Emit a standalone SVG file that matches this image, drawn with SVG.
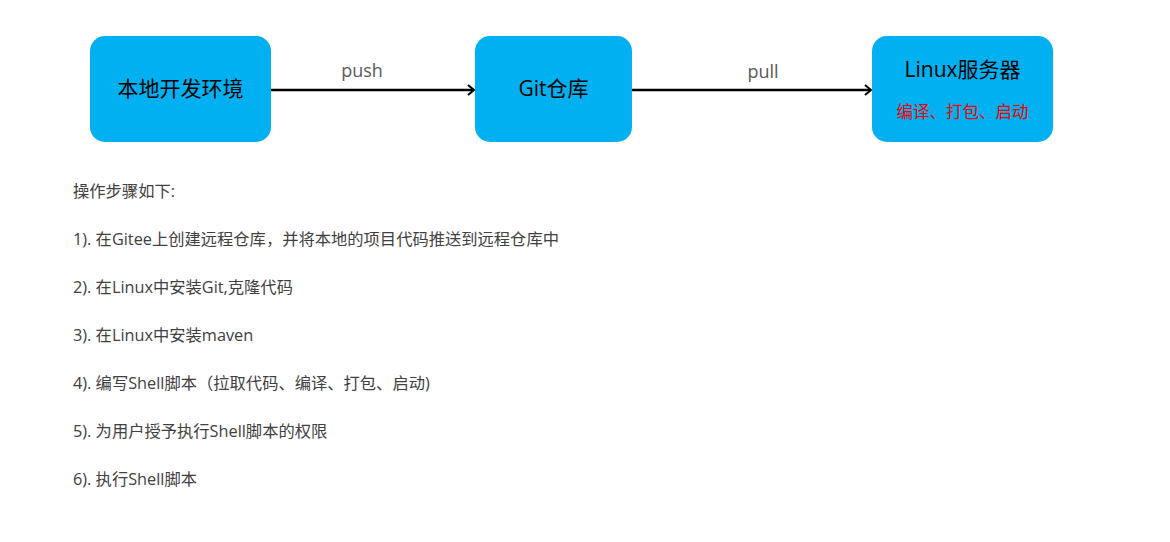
<svg xmlns="http://www.w3.org/2000/svg" width="1170" height="542" viewBox="0 0 1170 542">
<style>
.box{fill:#00B0F0;}
.nt{font-family:"Open Sans","Noto Sans CJK SC",sans-serif;font-size:21px;fill:#000;text-anchor:middle;}
.red{font-family:"Open Sans","Noto Sans CJK SC",sans-serif;font-size:16.5px;fill:#F00000;text-anchor:middle;}
.lbl{font-family:"Open Sans","Noto Sans CJK SC",sans-serif;font-size:18px;fill:#595959;text-anchor:middle;}
.step{font-family:"Open Sans","Noto Sans CJK SC",sans-serif;font-size:16.3px;fill:#404040;}
.conn{stroke:#000;stroke-width:2.5;fill:none;}
</style>
<defs>
<marker id="arr" markerWidth="12" markerHeight="12" refX="9" refY="6" orient="auto" markerUnits="userSpaceOnUse">
<path d="M3,1 L9,6 L3,11" fill="none" stroke="#000" stroke-width="2"/>
</marker>
</defs>
<rect width="1170" height="542" fill="#fff"/>
<g id="connectors">
<line class="conn" x1="271" y1="90" x2="474" y2="90" marker-end="url(#arr)"/>
<line class="conn" x1="632" y1="90" x2="871" y2="90" marker-end="url(#arr)"/>
<text class="lbl" x="362" y="77">push</text>
<text class="lbl" x="763" y="78">pull</text>
</g>
<g id="node-local">
<rect class="box" x="90" y="36" width="181" height="106" rx="15"/>
<text class="nt" x="180.5" y="96">本地开发环境</text>
</g>
<g id="node-git">
<rect class="box" x="475" y="36" width="157" height="106" rx="15"/>
<text class="nt" x="553.5" y="96">Git仓库</text>
</g>
<g id="node-linux">
<rect class="box" x="872" y="36" width="181" height="106" rx="15"/>
<text class="nt" x="962.5" y="77">Linux服务器</text>
<text class="red" x="962.5" y="118">编译、打包、启动</text>
</g>
<g id="steps">
<text class="step" x="73" y="197">操作步骤如下:</text>
<text class="step" x="73" y="245">1). 在Gitee上创建远程仓库，并将本地的项目代码推送到远程仓库中</text>
<text class="step" x="73" y="293">2). 在Linux中安装Git,克隆代码</text>
<text class="step" x="73" y="341">3). 在Linux中安装maven</text>
<text class="step" x="73" y="389">4). 编写Shell脚本（拉取代码、编译、打包、启动)</text>
<text class="step" x="73" y="437">5). 为用户授予执行Shell脚本的权限</text>
<text class="step" x="73" y="485">6). 执行Shell脚本</text>
</g>
</svg>
